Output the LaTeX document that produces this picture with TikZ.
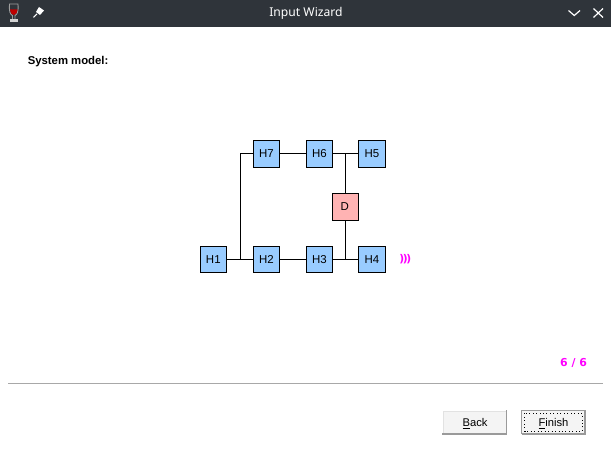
\documentclass[tikz,border=0pt]{standalone}
\usepackage{fontspec}
\setmainfont{Liberation Sans}
\newfontfamily\titlefont{Noto Sans}
\newfontfamily\boldfont{DejaVu Sans}
\newcommand\hostlbl[1]{\raisebox{-0.8pt}{#1}}
\definecolor{barcol}{HTML}{2F343A}
\definecolor{hostcol}{HTML}{99CCFF}
\definecolor{dcol}{HTML}{FFB3B3}
\definecolor{magentacol}{HTML}{FF00FF}
\definecolor{btncol}{HTML}{F4F4F4}
\definecolor{shadecol}{HTML}{9A9A9A}
\definecolor{lightcol}{HTML}{E2E2E2}
\definecolor{rulecol}{HTML}{A8A8A8}
\tikzset{
  x=0.75pt,y=-0.75pt,
  hostbox/.style={draw=black,line width=0.6pt,fill=hostcol,minimum size=19.9pt,inner sep=0pt,font=\fontsize{8.6}{10}\selectfont},
  dbox/.style={hostbox,fill=dcol},
  wire/.style={draw=black,line width=0.6pt},
  btnlabel/.style={inner sep=0pt,font=\fontsize{8.4}{10}\selectfont},
  barmark/.style={draw=white,line width=0.9pt},
  magtext/.style={inner sep=0pt,text=magentacol,font=\boldfont\bfseries\fontsize{8.2}{10}\selectfont}
}
\begin{document}
\begin{tikzpicture}
\useasboundingbox (0,0) rectangle (611,459);
\fill[white] (0,0) rectangle (611,459);
\fill[barcol] (0,0) rectangle (611,27.5);
% wine glass
\draw[gray!75,line width=0.7pt] (9.5,4) .. controls (9,11) and (10,14.5) .. (12.5,15.5) -- (12.5,19.5) -- (15,19.5) -- (15,15.5) .. controls (17.5,14.5) and (18.5,11) .. (18,4) -- cycle;
\fill[red!75!black] (10,9.5) .. controls (10.2,12.5) and (11,14.5) .. (13.8,15) .. controls (16.5,14.5) and (17.3,12.5) .. (17.6,9.5) -- cycle;
\fill[gray!35] (10,19.5) rectangle (17.8,21.8);
% pin
\fill[white] (39,7) -- (44,10.5) -- (40,15) -- (36,12) -- cycle;
\draw[white,line width=0.8pt] (37,14) -- (33.5,17.5);
\node[inner sep=0pt,text=white,font=\titlefont\fontsize{9.1}{10}\selectfont] (title) at (306,13.2) {Input Wizard};
\coordinate (mina) at (568.5,10.5);
\coordinate (minb) at (574.3,15.5);
\coordinate (minc) at (580,10.5);
\draw[barmark] (mina) -- (minb) -- (minc);
\coordinate (closea) at (593.5,8.5);
\coordinate (closeb) at (603,17.5);
\coordinate (closec) at (603,8.5);
\coordinate (closed) at (593.5,17.5);
\draw[barmark] (closea) -- (closeb);
\draw[barmark] (closec) -- (closed);
\node[anchor=west,inner sep=0pt,font=\bfseries\fontsize{8.5}{10}\selectfont] (heading) at (27.5,62) {System model:};
\node[hostbox] (H7) at (266.5,153.8) {\hostlbl{H7}};
\node[hostbox] (H6) at (319.5,153.8) {\hostlbl{H6}};
\node[hostbox] (H5) at (372,153.8) {\hostlbl{H5}};
\node[dbox] (D) at (345.5,206.8) {\hostlbl{\makebox[0pt]{\hspace{-1pt}D}}};
\node[hostbox] (H1) at (213.3,259.5) {\hostlbl{H1}};
\node[hostbox] (H2) at (266.5,259.5) {\hostlbl{H2}};
\node[hostbox] (H3) at (319.5,259.5) {\hostlbl{H3}};
\node[hostbox] (H4) at (372,259.5) {\hostlbl{H4}};
\coordinate (jl) at (240.5,259.5);
\coordinate (jt) at (345.5,153.8);
\coordinate (jb) at (345.5,259.5);
\draw[wire] (H1) -- (H2);
\draw[wire] (H2) -- (H3);
\draw[wire] (H3) -- (H4);
\draw[wire] (H7) -- (H6);
\draw[wire] (H6) -- (H5);
\draw[wire] (jl) |- (H7);
\draw[wire] (D) -- (jt);
\draw[wire] (D) -- (jb);
\node[magtext,font=\boldfont\bfseries\fontsize{8}{10}\selectfont] (waves) at (405.5,258.8) {\kern-0.2pt)\kern-1pt)\kern-1pt)};
\node[magtext] (page) at (573.5,363) {6 / 6};
\coordinate (rl) at (8,383.5);
\coordinate (rr) at (603,383.5);
\draw[rulecol,line width=0.75pt] (rl) -- (rr);
% Back button
\fill[btncol] (442.5,411) rectangle (506,433.5);
\draw[lightcol,line width=0.75pt] (443,433) |- (506,411.5);
\draw[shadecol,line width=1pt] (442,434) -- (506.5,434) -- (506.5,410.5);
\node[btnlabel] (back) at (475,424) {\underline{B}ack};
% Finish button
\fill[btncol] (522,411) rectangle (584,434);
\draw[shadecol,line width=0.75pt] (521.5,410.5) rectangle (585,434);
\draw[shadecol,line width=0.9pt] (521.5,434) -- (585,434) -- (585,410.5);
\draw[black,line width=0.6pt,dotted] (524.5,413.5) rectangle (582,431.5);
\node[btnlabel] (finish) at (553.5,424) {\underline{F}inish};
\end{tikzpicture}
\end{document}
